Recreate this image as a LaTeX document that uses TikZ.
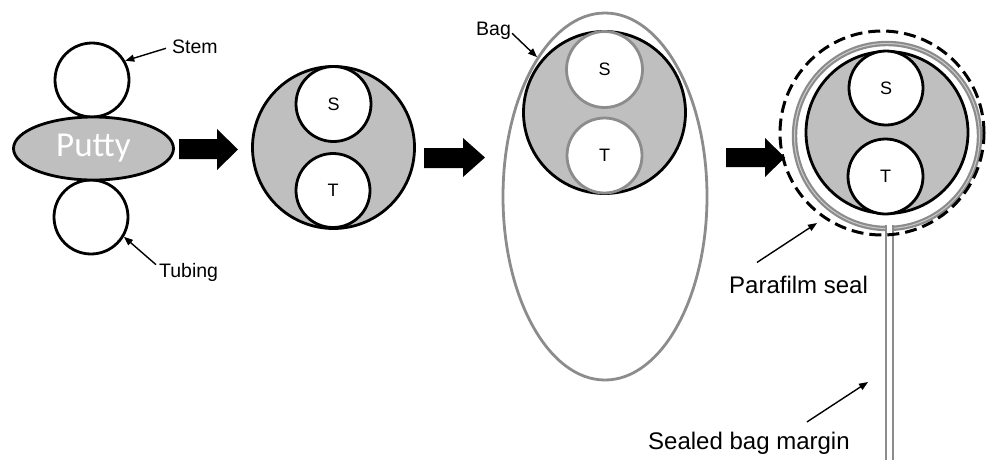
\documentclass[tikz,border=0pt]{standalone}
\usepackage{fontspec}
\setmainfont{Liberation Sans}
\newfontfamily\puttyfont{Carlito}
\usetikzlibrary{shapes.geometric,arrows.meta}
\definecolor{fillgray}{HTML}{BFBFBF}
\definecolor{baggray}{HTML}{8C8C8C}
\begin{document}
\begin{tikzpicture}[x=1pt,y=-1pt,
  ring/.style={circle,draw=black,line width=2.8pt,inner sep=0pt},
  puttydisc/.style={ring,fill=fillgray},
  hole/.style={ring,fill=white,font=\fontsize{18}{18}\selectfont},
  lbl/.style={inner sep=0pt,font=\fontsize{19.5}{20}\selectfont},
  biglbl/.style={inner sep=0pt,font=\fontsize{24}{25}\selectfont},
  pointer/.style={line width=1.4pt,-{Triangle[length=9pt,width=7pt]}},
  blockarrow/.style={fill=black}]
\useasboundingbox (0,0) rectangle (986,459);

% ---- panel 1
\node[ring,minimum size=74pt] (stem) at (92,80) {};
\node[ring,minimum size=74pt] (tubing) at (91,217) {};
\node[ellipse,draw,line width=2.8pt,fill=fillgray,minimum width=160pt,minimum height=63pt,
      inner sep=0pt,text=white,font=\puttyfont\fontsize{35}{36}\selectfont] (putty) at (93.5,148.5) {Putty};
\node[lbl,anchor=base west] (stemlbl) at (172,53) {Stem};
\node[lbl,anchor=base west] (tublbl) at (159,277) {Tubing};
\draw[pointer] ([xshift=-6pt,yshift=-2pt]stemlbl.west) -- (stem.30);
\draw[pointer] ([xshift=-3pt,yshift=-2pt]tublbl.north west) -- (tubing.-31);

\fill[blockarrow] (179,139) -- (217,139) -- (217,129) -- (238,149.5) -- (217,170) -- (217,159) -- (179,159) -- cycle;

% ---- panel 2
\node[puttydisc,minimum size=162pt] (p2) at (333.5,147.5) {};
\node[hole,minimum size=75pt] (s2) at (333.5,104) {S};
\node[hole,minimum size=74pt] (t2) at (333,190.5) {T};

\fill[blockarrow] (424,148) -- (463,148) -- (463,138) -- (485,157.5) -- (463,177) -- (463,168) -- (424,168) -- cycle;

% ---- panel 3
\node[ellipse,draw=baggray,line width=2.8pt,minimum width=204pt,minimum height=367pt,inner sep=0pt] (bag) at (605,196.5) {};
\node[puttydisc,minimum size=162pt] (p3) at (604.5,112.5) {};
\node[hole,draw=baggray,minimum size=76pt] (s3) at (604.5,69.5) {S};
\node[hole,draw=baggray,minimum size=75pt] (t3) at (604.5,155.5) {T};
\node[lbl,anchor=base west] (baglbl) at (476,35) {Bag};
\draw[pointer] ([xshift=1pt,yshift=-3pt]baglbl.east) -- (bag.116);

\fill[blockarrow] (726,148) -- (765,148) -- (765,138) -- (785,157.5) -- (765,177) -- (765,167) -- (726,167) -- cycle;

% ---- panel 4
\node[circle,draw=baggray,line width=2.2pt,double=baggray!45,double distance=1pt,minimum size=185pt,inner sep=0pt] (bag4) at (887,136) {};
\node[puttydisc,minimum size=162pt] (p4) at (887,132.5) {};
\node[hole,minimum size=74pt] (s4) at (886,88) {S};
\node[hole,minimum size=75pt] (t4) at (885.5,176.5) {T};
\coordinate (mtop) at (889.5,225);
\coordinate (mbot) at (889.5,464);
\draw[draw=baggray,line width=2.3pt,double=white,double distance=4.5pt] (mtop) -- (mbot);
\node[circle,draw=black,line width=3pt,dash pattern=on 12pt off 6pt,minimum size=204pt,inner sep=0pt] (seal) at (882,133) {};

\node[biglbl,anchor=base west] (paralbl) at (729,293) {Parafilm seal};
\coordinate (sealpt) at (817,223);
\draw[pointer] ([xshift=28pt,yshift=13pt]paralbl.north west) -- (sealpt);

\node[biglbl,anchor=base west] (marglbl) at (648,449) {Sealed bag margin};
\coordinate (margpt) at (868,382);
\draw[pointer] ([xshift=159pt,yshift=9.5pt]marglbl.north west) -- (margpt);
\end{tikzpicture}
\end{document}
